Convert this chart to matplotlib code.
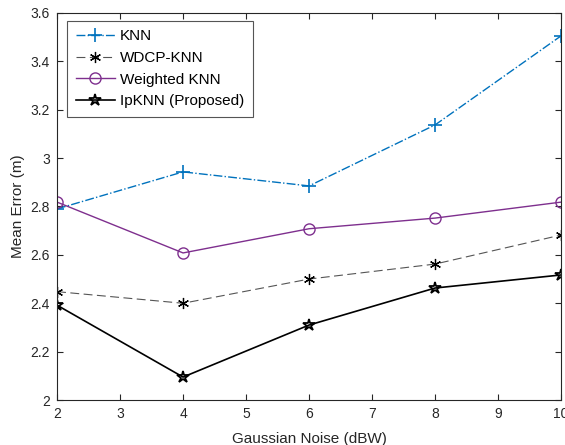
import matplotlib
matplotlib.use("Agg")
import matplotlib.pyplot as plt

plt.rcParams['font.family'] = ['Liberation Sans', 'DejaVu Sans']
plt.rcParams['font.size'] = 10

noise = [2, 4, 6, 8, 10]
knn = [2.79, 2.943, 2.885, 3.137, 3.505]
wdcp_knn = [2.448, 2.40, 2.50, 2.562, 2.682]
weighted_knn = [2.818, 2.608, 2.708, 2.752, 2.818]
ipknn = [2.392, 2.095, 2.31, 2.463, 2.517]

fig = plt.figure(figsize=(5.65, 4.45), dpi=100)
ax = fig.add_axes([0.101, 0.101, 0.892, 0.870])

ax.plot(noise, knn, color='#0072BD', linestyle='-.', marker='+', markersize=10,
        markeredgewidth=1.2, linewidth=1.0, label='KNN')
ax.plot(noise, wdcp_knn, color='#555555', linestyle=(0, (8, 4)),
        marker=(6, 2, 0), markersize=8, markeredgecolor='black',
        markeredgewidth=0.9, linewidth=0.8, label='WDCP-KNN')
ax.plot(noise, weighted_knn, color='#7E2F8E', linestyle='-', marker='o',
        markersize=8, markerfacecolor='none', linewidth=1.0, label='Weighted KNN')
ax.plot(noise, ipknn, color='black', linestyle='-', marker='*', markersize=9,
        markerfacecolor='none', markeredgewidth=1.3, linewidth=1.2,
        label='IpKNN (Proposed)')

ax.set_xlim(2, 10)
ax.set_ylim(2, 3.6)
ax.set_xticks(range(2, 11))
ax.set_yticks([2, 2.2, 2.4, 2.6, 2.8, 3, 3.2, 3.4, 3.6])
ax.set_yticklabels(['2', '2.2', '2.4', '2.6', '2.8', '3', '3.2', '3.4', '3.6'])
ax.tick_params(direction='in', top=True, right=True, length=4, colors='#262626',
               labelsize=10, pad=5)
for s in ax.spines.values():
    s.set_color('#262626')
    s.set_linewidth(0.8)

ax.set_xlabel('Gaussian Noise (dBW)', color='#262626', labelpad=8, fontsize=11)
ax.set_ylabel('Mean Error (m)', color='#262626', labelpad=4, fontsize=11)

leg = ax.legend(loc='upper left', bbox_to_anchor=(0.02, 0.979), fancybox=False,
                framealpha=1, edgecolor='#555555', handlelength=2.6,
                borderpad=0.55, labelspacing=0.5, handletextpad=0.3,
                borderaxespad=0, prop={'size': 11})
leg.get_frame().set_linewidth(0.8)

fig.savefig('out.png', dpi=100)
